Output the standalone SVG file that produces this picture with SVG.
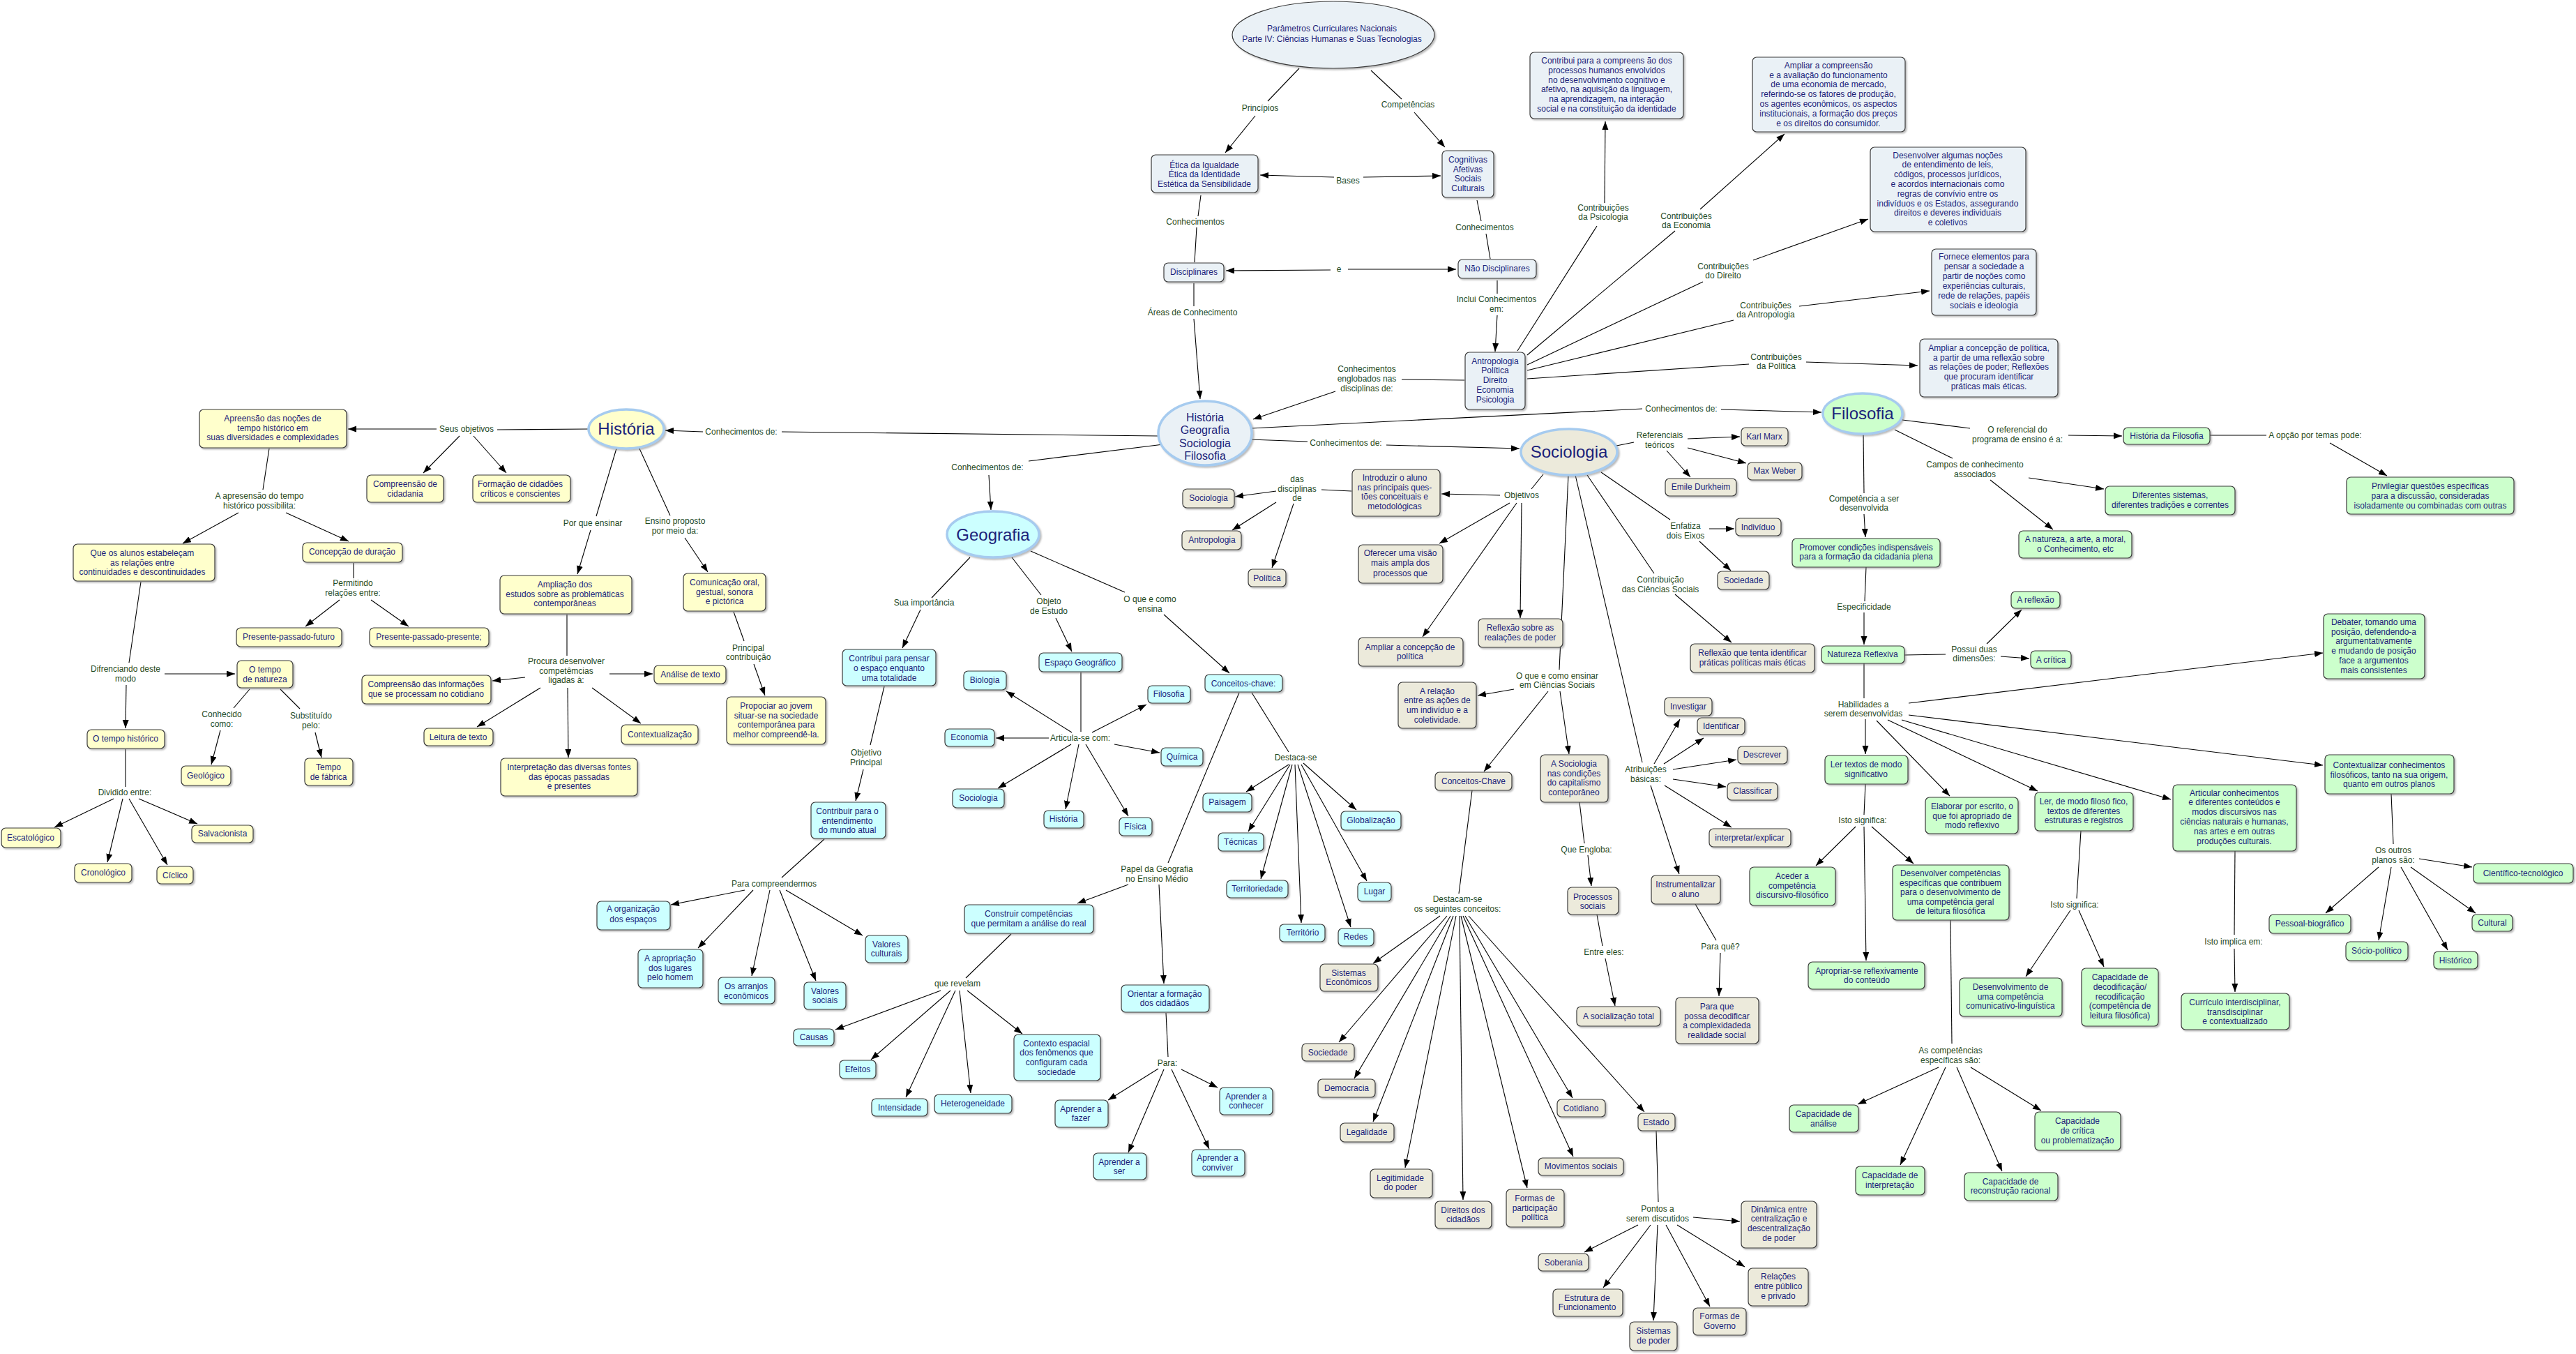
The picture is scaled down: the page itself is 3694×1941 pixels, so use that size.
<svg xmlns="http://www.w3.org/2000/svg" width="3694" height="1941" viewBox="0 0 3694 1941">
<defs>
<filter id="sh" x="-10%" y="-10%" width="130%" height="140%"><feDropShadow dx="2" dy="2" stdDeviation="1.2" flood-color="#777" flood-opacity="0.5"/></filter>
<marker id="ar" markerUnits="userSpaceOnUse" markerWidth="13" markerHeight="10" refX="12" refY="4.5" orient="auto"><path d="M0,0 L12,4.5 L0,9 z" fill="#000"/></marker>
</defs>
<style>
.n{stroke:#3a3a3a;stroke-width:1.2;filter:url(#sh)}
.s{fill:#EAF1F6}.y{fill:#FFFFCC}.c{fill:#CCFFFF}.b{fill:#ECEADB}.g{fill:#CCFFCC}
.e{stroke:#A6CBEF;stroke-width:3.5;filter:url(#sh)}
text{font-family:"Liberation Sans",Arial,sans-serif}
.t{font-size:12px;fill:#1B1F7A;text-anchor:middle}
.l{font-size:12px;fill:#1F4A1F;text-anchor:middle}
.big{font-size:24px;fill:#1B1F7A;text-anchor:middle}
.m{font-size:16px;fill:#1B1F7A;text-anchor:middle}
#conn path{fill:none;stroke:#000;stroke-width:1.1}
#conn path.a{marker-end:url(#ar)}
</style>
<rect width="3694" height="1941" fill="#fff"/>

<g id="conn">
<path d="M1863 98 L1818 145"/><path class="a" d="M1800 166 L1757 219"/>
<path d="M1966 101 L2010 142"/><path class="a" d="M2028 161 L2072 211"/>
<path class="a" d="M1913 254 L1807 251"/><path class="a" d="M1955 254 L2066 252"/>
<path d="M1722 280 L1718 310"/><path d="M1716 326 L1713 376"/>
<path class="a" d="M1908 387 L1758 388"/><path class="a" d="M1933 386 L2088 386"/>
<path d="M2118 287 L2124 317"/><path d="M2131 335 L2137 371"/>
<path d="M1712 406 L1712 439"/><path class="a" d="M1712 457 L1721 572"/>
<path d="M2147 402 L2147 421"/><path class="a" d="M2147 452 L2144 504"/>
<path d="M2100 545 L2010 544"/><path class="a" d="M1915 561 L1797 601"/>
<path d="M2176 503 L2290 324"/><path class="a" d="M2301 291 L2302 174"/>
<path d="M2190 509 L2402 331"/><path class="a" d="M2438 300 L2559 192"/>
<path d="M2190 523 L2442 404"/><path class="a" d="M2514 373 L2679 314"/>
<path d="M2190 531 L2486 459"/><path class="a" d="M2580 439 L2767 417"/>
<path d="M2190 543 L2508 522"/><path class="a" d="M2590 519 L2750 524"/>
<path d="M1661 625 L1121 619"/><path class="a" d="M1008 619 L954 617"/>
<path d="M1668 637 L1475 661"/><path class="a" d="M1418 681 L1421 731"/>
<path d="M1794 614 L2355 586"/><path class="a" d="M2468 587 L2612 591"/>
<path d="M1793 630 L1875 633"/><path class="a" d="M1988 638 L2179 643"/>
<path d="M844 615 L713 616"/><path class="a" d="M626 615 L499 615"/>
<path class="a" d="M659 625 L607 678"/><path class="a" d="M679 625 L726 678"/>
<path d="M386 643 L377 702"/>
<path class="a" d="M342 735 L262 779"/><path class="a" d="M410 735 L500 776"/>
<path d="M507 807 L507 829"/><path class="a" d="M487 860 L438 898"/><path class="a" d="M532 860 L586 898"/>
<path d="M202 834 L185 950"/><path class="a" d="M236 966 L337 966"/><path class="a" d="M181 982 L180 1044"/>
<path d="M358 988 L335 1015"/><path class="a" d="M316 1047 L303 1096"/>
<path d="M402 988 L430 1016"/><path class="a" d="M452 1050 L461 1086"/>
<path d="M180 1074 L180 1128"/><path class="a" d="M163 1145 L78 1186"/><path class="a" d="M176 1145 L154 1236"/><path class="a" d="M185 1145 L240 1240"/><path class="a" d="M199 1145 L283 1181"/>
<path d="M884 643 L855 740"/><path class="a" d="M847 760 L828 823"/>
<path d="M813 881 L813 940"/><path class="a" d="M753 971 L706 976"/><path class="a" d="M775 986 L684 1042"/><path class="a" d="M814 986 L815 1086"/><path class="a" d="M849 986 L919 1037"/><path class="a" d="M874 966 L936 966"/>
<path d="M916 641 L961 739"/><path class="a" d="M982 771 L1015 820"/>
<path d="M1052 877 L1067 919"/><path class="a" d="M1081 952 L1097 997"/>
<path d="M1391 799 L1336 857"/><path class="a" d="M1320 874 L1294 929"/>
<path d="M1268 984 L1248 1068"/><path class="a" d="M1238 1103 L1227 1148"/>
<path d="M1182 1203 L1121 1258"/><path class="a" d="M1068 1276 L962 1297"/><path class="a" d="M1080 1276 L1001 1359"/><path class="a" d="M1104 1276 L1078 1399"/><path class="a" d="M1118 1276 L1170 1406"/><path class="a" d="M1127 1276 L1237 1341"/>
<path d="M1451 799 L1493 853"/><path class="a" d="M1514 886 L1537 934"/>
<path d="M1550 964 L1550 1049"/><path class="a" d="M1537 1050 L1443 991"/><path class="a" d="M1504 1058 L1428 1058"/><path class="a" d="M1566 1050 L1644 1010"/><path class="a" d="M1598 1067 L1663 1079"/><path class="a" d="M1536 1067 L1431 1130"/><path class="a" d="M1547 1067 L1528 1160"/><path class="a" d="M1557 1067 L1618 1170"/>
<path d="M1478 790 L1613 849"/><path class="a" d="M1669 881 L1763 965"/>
<path d="M1795 993 L1848 1078"/>
<path class="a" d="M1848 1096 L1787 1135"/><path class="a" d="M1850 1096 L1790 1192"/><path class="a" d="M1853 1096 L1808 1260"/><path class="a" d="M1857 1096 L1866 1323"/><path class="a" d="M1861 1096 L1937 1329"/><path class="a" d="M1866 1096 L1960 1263"/><path class="a" d="M1869 1094 L1945 1161"/>
<path d="M1777 993 L1675 1237"/><path class="a" d="M1618 1268 L1545 1295"/><path class="a" d="M1662 1268 L1669 1410"/>
<path d="M1450 1339 L1385 1402"/><path class="a" d="M1349 1420 L1198 1476"/><path class="a" d="M1363 1420 L1249 1519"/><path class="a" d="M1370 1420 L1299 1573"/><path class="a" d="M1376 1420 L1392 1567"/><path class="a" d="M1387 1420 L1466 1482"/>
<path d="M1672 1452 L1675 1515"/><path class="a" d="M1661 1532 L1589 1577"/><path class="a" d="M1669 1533 L1618 1652"/><path class="a" d="M1680 1533 L1734 1647"/><path class="a" d="M1694 1533 L1746 1559"/>
<path d="M2213 680 L2196 701"/><path class="a" d="M2151 710 L2067 708"/><path class="a" d="M2165 721 L2064 779"/><path class="a" d="M2175 721 L2040 913"/><path class="a" d="M2182 721 L2180 886"/>
<path d="M1938 704 L1895 702"/><path class="a" d="M1830 704 L1771 712"/><path class="a" d="M1830 720 L1767 760"/><path class="a" d="M1855 722 L1824 814"/>
<path d="M2249 681 L2236 960"/><path class="a" d="M2171 988 L2119 997"/><path class="a" d="M2220 991 L2128 1106"/><path class="a" d="M2237 991 L2250 1081"/>
<path d="M2111 1133 L2092 1281"/>
<path class="a" d="M2065 1313 L1969 1381"/><path class="a" d="M2075 1313 L1920 1494"/><path class="a" d="M2080 1313 L1942 1546"/><path class="a" d="M2084 1313 L1969 1608"/><path class="a" d="M2088 1313 L2015 1674"/><path class="a" d="M2093 1313 L2098 1720"/><path class="a" d="M2095 1313 L2190 1703"/><path class="a" d="M2098 1313 L2256 1658"/><path class="a" d="M2101 1313 L2255 1574"/><path class="a" d="M2106 1313 L2358 1594"/>
<path d="M2265 1150 L2272 1209"/><path class="a" d="M2277 1226 L2282 1270"/>
<path d="M2290 1311 L2298 1356"/><path class="a" d="M2302 1374 L2316 1442"/>
<path d="M2318 639 L2343 634"/><path class="a" d="M2420 629 L2495 626"/><path class="a" d="M2390 646 L2424 684"/><path class="a" d="M2420 642 L2504 664"/>
<path d="M2296 677 L2395 745"/><path class="a" d="M2451 758 L2487 758"/><path class="a" d="M2437 776 L2482 818"/>
<path d="M2276 681 L2372 822"/><path class="a" d="M2402 852 L2483 921"/>
<path d="M2259 681 L2355 1093"/><path class="a" d="M2372 1095 L2409 1031"/><path class="a" d="M2386 1095 L2443 1058"/><path class="a" d="M2399 1103 L2490 1089"/><path class="a" d="M2399 1117 L2475 1128"/><path class="a" d="M2387 1126 L2483 1186"/><path class="a" d="M2367 1126 L2408 1253"/>
<path d="M2431 1296 L2461 1348"/><path class="a" d="M2467 1366 L2465 1428"/>
<path d="M2375 1621 L2378 1723"/><path class="a" d="M2428 1745 L2495 1751"/><path class="a" d="M2349 1756 L2272 1795"/><path class="a" d="M2367 1756 L2299 1846"/><path class="a" d="M2377 1756 L2371 1893"/><path class="a" d="M2389 1756 L2452 1873"/><path class="a" d="M2405 1756 L2502 1816"/>
<path d="M2728 602 L2825 614"/><path class="a" d="M2966 624 L3043 625"/>
<path d="M3169 624 L3250 624"/><path class="a" d="M3341 635 L3423 682"/>
<path d="M2717 616 L2800 657"/><path class="a" d="M2909 685 L3017 701"/><path class="a" d="M2854 688 L2944 759"/>
<path d="M2672 622 L2673 707"/><path class="a" d="M2673 737 L2675 770"/>
<path d="M2676 813 L2674 862"/><path class="a" d="M2673 878 L2673 924"/>
<path d="M2731 939 L2790 938"/><path class="a" d="M2849 923 L2899 874"/><path class="a" d="M2869 941 L2910 944"/>
<path d="M2673 951 L2673 1001"/><path class="a" d="M2675 1031 L2675 1081"/><path class="a" d="M2691 1033 L2796 1141"/><path class="a" d="M2707 1032 L2922 1134"/><path class="a" d="M2727 1032 L3113 1146"/><path class="a" d="M2737 1025 L3331 1097"/><path class="a" d="M2737 1008 L3331 936"/>
<path d="M2675 1124 L2673 1168"/><path class="a" d="M2661 1185 L2604 1241"/><path class="a" d="M2684 1185 L2744 1238"/><path class="a" d="M2673 1185 L2676 1377"/>
<path d="M2797 1319 L2799 1496"/><path class="a" d="M2780 1530 L2664 1583"/><path class="a" d="M2790 1530 L2725 1670"/><path class="a" d="M2806 1530 L2871 1679"/><path class="a" d="M2826 1530 L2927 1592"/>
<path d="M2984 1191 L2978 1288"/><path class="a" d="M2969 1305 L2905 1400"/><path class="a" d="M2981 1305 L3017 1386"/>
<path d="M3205 1220 L3204 1340"/><path class="a" d="M3204 1360 L3205 1422"/>
<path d="M3429 1138 L3432 1210"/><path class="a" d="M3469 1231 L3545 1243"/><path class="a" d="M3411 1243 L3335 1309"/><path class="a" d="M3429 1243 L3411 1348"/><path class="a" d="M3443 1243 L3510 1362"/><path class="a" d="M3457 1243 L3550 1309"/>
</g>

<g id="labels">
<text class="l" x="1807" y="159">Princípios</text>
<text class="l" x="2019" y="154">Competências</text>
<text class="l" x="1933" y="263">Bases</text>
<text class="l" x="1714" y="322">Conhecimentos</text>
<text class="l" x="2129" y="330">Conhecimentos</text>
<text class="l" x="1920" y="390">e</text>
<text class="l" x="1710" y="452">Áreas de Conhecimento</text>
<text class="l"><tspan x="2146" y="433">Inclui Conhecimentos</tspan><tspan x="2146" y="447">em:</tspan></text>
<text class="l"><tspan x="1960" y="533">Conhecimentos</tspan><tspan x="1960" y="547">englobados nas</tspan><tspan x="1960" y="561">disciplinas de:</tspan></text>
<text class="l"><tspan x="2299" y="302">Contribuições</tspan><tspan x="2299" y="315">da Psicologia</tspan></text>
<text class="l"><tspan x="2418" y="314">Contribuições</tspan><tspan x="2418" y="327">da Economia</tspan></text>
<text class="l"><tspan x="2471" y="386">Contribuições</tspan><tspan x="2471" y="399">do Direito</tspan></text>
<text class="l"><tspan x="2532" y="442">Contribuições</tspan><tspan x="2532" y="455">da Antropologia</tspan></text>
<text class="l"><tspan x="2547" y="516">Contribuições</tspan><tspan x="2547" y="529">da Política</tspan></text>
<text class="l" x="1063" y="623">Conhecimentos de:</text>
<text class="l" x="1416" y="674">Conhecimentos de:</text>
<text class="l" x="2411" y="590">Conhecimentos de:</text>
<text class="l" x="1930" y="639">Conhecimentos de:</text>
<text class="l" x="669" y="619">Seus objetivos</text>
<text class="l"><tspan x="372" y="715">A apresensão do tempo</tspan><tspan x="372" y="729">histórico possibilita:</tspan></text>
<text class="l"><tspan x="506" y="840">Permitindo</tspan><tspan x="506" y="854">relações entre:</tspan></text>
<text class="l"><tspan x="180" y="963">Difrenciando deste</tspan><tspan x="180" y="977">modo</tspan></text>
<text class="l"><tspan x="318" y="1028">Conhecido</tspan><tspan x="318" y="1042">como:</tspan></text>
<text class="l"><tspan x="446" y="1030">Substituído</tspan><tspan x="446" y="1044">pelo:</tspan></text>
<text class="l" x="179" y="1140">Dividido entre:</text>
<text class="l" x="850" y="754">Por que ensinar</text>
<text class="l"><tspan x="812" y="952">Procura desenvolver</tspan><tspan x="812" y="966">competêmcias</tspan><tspan x="812" y="979">ligadas à:</tspan></text>
<text class="l"><tspan x="968" y="751">Ensino proposto</tspan><tspan x="968" y="765">por meio da:</tspan></text>
<text class="l"><tspan x="1073" y="933">Principal</tspan><tspan x="1073" y="946">contribuição</tspan></text>
<text class="l" x="1325" y="868">Sua importância</text>
<text class="l"><tspan x="1242" y="1083">Objetivo</tspan><tspan x="1242" y="1097">Principal</tspan></text>
<text class="l" x="1110" y="1271">Para compreendermos</text>
<text class="l"><tspan x="1504" y="866">Objeto</tspan><tspan x="1504" y="880">de Estudo</tspan></text>
<text class="l"><tspan x="1649" y="863">O que e como</tspan><tspan x="1649" y="877">ensina</tspan></text>
<text class="l" x="1549" y="1062">Articula-se com:</text>
<text class="l" x="1858" y="1090">Destaca-se</text>
<text class="l"><tspan x="1659" y="1250">Papel da Geografia</tspan><tspan x="1659" y="1264">no Ensino Médio</tspan></text>
<text class="l" x="1373" y="1414">que revelam</text>
<text class="l" x="1674" y="1528">Para:</text>
<text class="l"><tspan x="1860" y="691">das</tspan><tspan x="1860" y="705">disciplinas</tspan><tspan x="1860" y="718">de</tspan></text>
<text class="l" x="2182" y="714">Objetivos</text>
<text class="l"><tspan x="2233" y="973">O que e como ensinar</tspan><tspan x="2233" y="986">em Ciências Sociais</tspan></text>
<text class="l" x="2275" y="1222">Que Engloba:</text>
<text class="l" x="2300" y="1369">Entre eles:</text>
<text class="l"><tspan x="2090" y="1293">Destacam-se</tspan><tspan x="2090" y="1307">os seguintes conceitos:</tspan></text>
<text class="l"><tspan x="2377" y="1737">Pontos a</tspan><tspan x="2377" y="1751">serem discutidos</tspan></text>
<text class="l"><tspan x="2380" y="628">Referenciais</tspan><tspan x="2380" y="642">teóricos</tspan></text>
<text class="l"><tspan x="2417" y="758">Enfatiza</tspan><tspan x="2417" y="772">dois Eixos</tspan></text>
<text class="l"><tspan x="2381" y="835">Contribuição</tspan><tspan x="2381" y="849">das Ciências Sociais</tspan></text>
<text class="l"><tspan x="2360" y="1107">Atribuições</tspan><tspan x="2360" y="1121">básicas:</tspan></text>
<text class="l" x="2467" y="1361">Para quê?</text>
<text class="l"><tspan x="2893" y="620">O referencial do</tspan><tspan x="2893" y="634">programa de ensino é a:</tspan></text>
<text class="l" x="3320" y="628">A opção por temas pode:</text>
<text class="l"><tspan x="2832" y="670">Campos de conhecimento</tspan><tspan x="2832" y="684">associados</tspan></text>
<text class="l"><tspan x="2673" y="719">Competência a ser</tspan><tspan x="2673" y="732">desenvolvida</tspan></text>
<text class="l" x="2673" y="874">Especificidade</text>
<text class="l"><tspan x="2831" y="935">Possui duas</tspan><tspan x="2831" y="948">dimensões:</tspan></text>
<text class="l"><tspan x="2672" y="1014">Habilidades a</tspan><tspan x="2672" y="1027">serem desenvolvidas</tspan></text>
<text class="l" x="2671" y="1180">Isto significa:</text>
<text class="l"><tspan x="2797" y="1510">As competências</tspan><tspan x="2797" y="1524">específicas são:</tspan></text>
<text class="l" x="2975" y="1301">Isto significa:</text>
<text class="l" x="3203" y="1354">Isto implica em:</text>
<text class="l"><tspan x="3432" y="1223">Os outros</tspan><tspan x="3432" y="1237">planos são:</tspan></text>
</g>

<!-- top -->
<g id="pcn"><ellipse class="n s" cx="1912" cy="50" rx="145" ry="48"/><text class="t"><tspan x="1910" y="45">Parâmetros Curriculares Nacionais</tspan><tspan x="1910" y="60">Parte IV: Ciências Humanas e Suas Tecnologias</tspan></text></g>
<g id="etica"><rect class="n s" x="1651" y="222" width="153" height="54" rx="6"/><text class="t"><tspan x="1727" y="241">Ética da Igualdade</tspan><tspan x="1727" y="254">Ética da Identidade</tspan><tspan x="1727" y="268">Estética da Sensibilidade</tspan></text></g>
<g id="cognitivas"><rect class="n s" x="2068" y="216" width="74" height="67" rx="6"/><text class="t"><tspan x="2105" y="233">Cognitivas</tspan><tspan x="2105" y="247">Afetivas</tspan><tspan x="2105" y="260">Sociais</tspan><tspan x="2105" y="274">Culturais</tspan></text></g>
<g id="disciplinares"><rect class="n s" x="1669" y="377" width="86" height="27" rx="6"/><text class="t" x="1712" y="394">Disciplinares</text></g>
<g id="naodisciplinares"><rect class="n s" x="2091" y="372" width="112" height="27" rx="6"/><text class="t" x="2147" y="389">Não Disciplinares</text></g>
<g id="areas"><rect class="n s" x="2101" y="505" width="86" height="82" rx="6"/><text class="t"><tspan x="2144" y="522">Antropologia</tspan><tspan x="2144" y="535">Política</tspan><tspan x="2144" y="549">Direito</tspan><tspan x="2144" y="563">Economia</tspan><tspan x="2144" y="577">Psicologia</tspan></text></g>
<g id="psicologia"><rect class="n s" x="2194" y="75" width="220" height="95" rx="6"/><text class="t"><tspan x="2304" y="91">Contribui para a compreens ão dos</tspan><tspan x="2304" y="105">processos humanos envolvidos</tspan><tspan x="2304" y="119">no desenvolvimento cognitivo e</tspan><tspan x="2304" y="132">afetivo, na aquisição da linguagem,</tspan><tspan x="2304" y="146">na aprendizagem, na interação</tspan><tspan x="2304" y="160">social e na constituição da identidade</tspan></text></g>
<g id="economia"><rect class="n s" x="2513" y="82" width="219" height="107" rx="6"/><text class="t"><tspan x="2622" y="98">Ampliar a compreensão</tspan><tspan x="2622" y="112">e a avaliação do funcionamento</tspan><tspan x="2622" y="125">de uma economia de mercado,</tspan><tspan x="2622" y="139">referindo-se os fatores de produção,</tspan><tspan x="2622" y="153">os agentes econômicos, os aspectos</tspan><tspan x="2622" y="167">institucionais, a formação dos preços</tspan><tspan x="2622" y="181">e os direitos do consumidor.</tspan></text></g>
<g id="direito"><rect class="n s" x="2682" y="211" width="223" height="121" rx="6"/><text class="t"><tspan x="2793" y="227">Desenvolver algumas noções</tspan><tspan x="2793" y="240">de entendimento de leis,</tspan><tspan x="2793" y="254">códigos, processos jurídicos,</tspan><tspan x="2793" y="268">e acordos internacionais como</tspan><tspan x="2793" y="282">regras de convívio entre os</tspan><tspan x="2793" y="296">indivíduos e os Estados, assegurando</tspan><tspan x="2793" y="309">direitos e deveres individuais</tspan><tspan x="2793" y="323">e coletivos</tspan></text></g>
<g id="antropologia"><rect class="n s" x="2770" y="357" width="150" height="95" rx="6"/><text class="t"><tspan x="2845" y="372">Fornece elementos para</tspan><tspan x="2845" y="386">pensar a sociedade a</tspan><tspan x="2845" y="400">partir de noções como</tspan><tspan x="2845" y="414">experiências culturais,</tspan><tspan x="2845" y="428">rede de relações, papéis</tspan><tspan x="2845" y="442">sociais e ideologia</tspan></text></g>
<g id="politica"><rect class="n s" x="2753" y="486" width="198" height="83" rx="6"/><text class="t"><tspan x="2852" y="503">Ampliar a concepção de política,</tspan><tspan x="2852" y="517">a partir de uma reflexão sobre</tspan><tspan x="2852" y="530">as  relações de poder; Reflexões</tspan><tspan x="2852" y="544">que procuram identificar</tspan><tspan x="2852" y="558">práticas mais éticas.</tspan></text></g>
<g id="hgsf"><ellipse class="e s" cx="1728" cy="621" rx="67" ry="46"/><text class="m"><tspan x="1728" y="604">História</tspan><tspan x="1728" y="622">Geografia</tspan><tspan x="1728" y="641">Sociologia</tspan><tspan x="1728" y="659">Filosofia</tspan></text></g>

<!-- História -->
<g id="historia"><ellipse class="e y" cx="898" cy="615" rx="54" ry="28"/><text class="big" x="898" y="623">História</text></g>
<g id="apreensao"><rect class="n y" x="286" y="587" width="211" height="55" rx="6"/><text class="t"><tspan x="391" y="604">Apreensão das noções de</tspan><tspan x="391" y="618">tempo histórico em</tspan><tspan x="391" y="631">suas diversidades e complexidades</tspan></text></g>
<g id="cidadania"><rect class="n y" x="526" y="681" width="110" height="39" rx="6"/><text class="t"><tspan x="581" y="698">Compreensão de</tspan><tspan x="581" y="712">cidadania</tspan></text></g>
<g id="cidadoes"><rect class="n y" x="678" y="681" width="140" height="39" rx="6"/><text class="t"><tspan x="746" y="698">Formação de cidadões</tspan><tspan x="746" y="712">críticos e conscientes</tspan></text></g>
<g id="queos"><rect class="n y" x="105" y="780" width="203" height="53" rx="6"/><text class="t"><tspan x="204" y="797">Que os alunos estabeleçam</tspan><tspan x="204" y="811">as relações entre</tspan><tspan x="204" y="824">continuidades e descontinuidades</tspan></text></g>
<g id="concepcao"><rect class="n y" x="434" y="778" width="143" height="28" rx="6"/><text class="t" x="505" y="795">Concepção de duração</text></g>
<g id="ppf"><rect class="n y" x="339" y="900" width="151" height="27" rx="6"/><text class="t" x="414" y="917">Presente-passado-futuro</text></g>
<g id="ppp"><rect class="n y" x="530" y="900" width="171" height="27" rx="6"/><text class="t" x="615" y="917">Presente-passado-presente;</text></g>
<g id="natureza"><rect class="n y" x="340" y="947" width="80" height="39" rx="6"/><text class="t"><tspan x="380" y="964">O tempo</tspan><tspan x="380" y="978">de natureza</tspan></text></g>
<g id="geologico"><rect class="n y" x="260" y="1098" width="71" height="28" rx="6"/><text class="t" x="295" y="1116">Geológico</text></g>
<g id="fabrica"><rect class="n y" x="437" y="1087" width="69" height="39" rx="6"/><text class="t"><tspan x="471" y="1104">Tempo</tspan><tspan x="471" y="1118">de fábrica</tspan></text></g>
<g id="tempohist"><rect class="n y" x="125" y="1046" width="111" height="27" rx="6"/><text class="t" x="180" y="1063">O tempo histórico</text></g>
<g id="escatologico"><rect class="n y" x="2" y="1187" width="85" height="28" rx="6"/><text class="t" x="44" y="1205">Escatológico</text></g>
<g id="cronologico"><rect class="n y" x="107" y="1238" width="82" height="27" rx="6"/><text class="t" x="148" y="1255">Cronológico</text></g>
<g id="ciclico"><rect class="n y" x="225" y="1242" width="52" height="25" rx="6"/><text class="t" x="251" y="1259">Cíclico</text></g>
<g id="salvacionista"><rect class="n y" x="275" y="1183" width="88" height="25" rx="6"/><text class="t" x="319" y="1199">Salvacionista</text></g>
<g id="ampliacao"><rect class="n y" x="717" y="825" width="189" height="55" rx="6"/><text class="t"><tspan x="810" y="842">Ampliação dos</tspan><tspan x="810" y="856">estudos sobre as problemáticas</tspan><tspan x="810" y="869">contemporâneas</tspan></text></g>
<g id="compinfo"><rect class="n y" x="519" y="968" width="185" height="41" rx="6"/><text class="t"><tspan x="611" y="985">Compreensão das informações</tspan><tspan x="611" y="999">que se processam no cotidiano</tspan></text></g>
<g id="leitura"><rect class="n y" x="608" y="1044" width="99" height="25" rx="6"/><text class="t" x="657" y="1061">Leitura de texto</text></g>
<g id="interpretacao"><rect class="n y" x="718" y="1087" width="196" height="54" rx="6"/><text class="t"><tspan x="816" y="1104">Interpretação das diversas fontes</tspan><tspan x="816" y="1118">das épocas passadas</tspan><tspan x="816" y="1131">e presentes</tspan></text></g>
<g id="contextualizacao"><rect class="n y" x="891" y="1039" width="110" height="28" rx="6"/><text class="t" x="946" y="1057">Contextualização</text></g>
<g id="analise"><rect class="n y" x="938" y="954" width="103" height="26" rx="6"/><text class="t" x="990" y="971">Análise de texto</text></g>
<g id="comunicacao"><rect class="n y" x="980" y="822" width="118" height="54" rx="6"/><text class="t"><tspan x="1039" y="839">Comunicação oral,</tspan><tspan x="1039" y="853">gestual, sonora</tspan><tspan x="1039" y="866">e pictórica</tspan></text></g>
<g id="propociar"><rect class="n y" x="1042" y="999" width="142" height="68" rx="6"/><text class="t"><tspan x="1113" y="1016">Propociar ao jovem</tspan><tspan x="1113" y="1030">situar-se na sociedade</tspan><tspan x="1113" y="1043">contemporânea para</tspan><tspan x="1113" y="1057">melhor compreendê-la.</tspan></text></g>

<!-- Geografia -->
<g id="geografia"><ellipse class="e c" cx="1424" cy="766" rx="66" ry="33"/><text class="big" x="1424" y="775">Geografia</text></g>
<g id="contribui"><rect class="n c" x="1208" y="931" width="134" height="52" rx="6"/><text class="t"><tspan x="1275" y="948">Contribui para pensar</tspan><tspan x="1275" y="962">o espaço enquanto</tspan><tspan x="1275" y="976">uma totalidade</tspan></text></g>
<g id="contribuir"><rect class="n c" x="1163" y="1150" width="107" height="52" rx="6"/><text class="t"><tspan x="1215" y="1167">Contribuir para o</tspan><tspan x="1215" y="1181">entendimento</tspan><tspan x="1215" y="1194">do mundo atual</tspan></text></g>
<g id="espaco"><rect class="n c" x="1490" y="936" width="119" height="27" rx="6"/><text class="t" x="1549" y="954">Espaço Geográfico</text></g>
<g id="conceitoschave"><rect class="n c" x="1728" y="967" width="111" height="25" rx="6"/><text class="t" x="1783" y="984">Conceitos-chave:</text></g>
<g id="biologia"><rect class="n c" x="1382" y="962" width="61" height="27" rx="6"/><text class="t" x="1412" y="979">Biologia</text></g>
<g id="filosofiag"><rect class="n c" x="1646" y="983" width="61" height="25" rx="6"/><text class="t" x="1676" y="999">Filosofia</text></g>
<g id="economiag"><rect class="n c" x="1355" y="1045" width="71" height="25" rx="6"/><text class="t" x="1390" y="1061">Economia</text></g>
<g id="quimica"><rect class="n c" x="1665" y="1072" width="60" height="26" rx="6"/><text class="t" x="1695" y="1089">Química</text></g>
<g id="sociologiag"><rect class="n c" x="1366" y="1131" width="74" height="27" rx="6"/><text class="t" x="1403" y="1148">Sociologia</text></g>
<g id="historiag"><rect class="n c" x="1497" y="1162" width="57" height="25" rx="6"/><text class="t" x="1525" y="1178">História</text></g>
<g id="fisica"><rect class="n c" x="1605" y="1172" width="47" height="26" rx="6"/><text class="t" x="1628" y="1189">Física</text></g>
<g id="paisagem"><rect class="n c" x="1725" y="1137" width="70" height="27" rx="6"/><text class="t" x="1760" y="1154">Paisagem</text></g>
<g id="tecnicas"><rect class="n c" x="1747" y="1194" width="65" height="26" rx="6"/><text class="t" x="1779" y="1211">Técnicas</text></g>
<g id="territoriedade"><rect class="n c" x="1759" y="1262" width="88" height="25" rx="6"/><text class="t" x="1803" y="1278">Territoriedade</text></g>
<g id="globalizacao"><rect class="n c" x="1923" y="1163" width="86" height="27" rx="6"/><text class="t" x="1966" y="1180">Globalização</text></g>
<g id="lugar"><rect class="n c" x="1947" y="1265" width="48" height="27" rx="6"/><text class="t" x="1971" y="1282">Lugar</text></g>
<g id="territorio"><rect class="n c" x="1835" y="1325" width="65" height="25" rx="6"/><text class="t" x="1868" y="1341">Território</text></g>
<g id="redes"><rect class="n c" x="1919" y="1331" width="51" height="25" rx="6"/><text class="t" x="1944" y="1347">Redes</text></g>
<g id="organizacao"><rect class="n c" x="856" y="1292" width="105" height="41" rx="6"/><text class="t"><tspan x="908" y="1307">A organização</tspan><tspan x="908" y="1322">dos espaços</tspan></text></g>
<g id="apropriacao"><rect class="n c" x="915" y="1361" width="93" height="55" rx="6"/><text class="t"><tspan x="961" y="1378">A apropriação</tspan><tspan x="961" y="1392">dos lugares</tspan><tspan x="961" y="1405">pelo homem</tspan></text></g>
<g id="arranjos"><rect class="n c" x="1030" y="1401" width="81" height="38" rx="6"/><text class="t"><tspan x="1070" y="1418">Os arranjos</tspan><tspan x="1070" y="1432">econômicos</tspan></text></g>
<g id="valoressociais"><rect class="n c" x="1153" y="1408" width="60" height="39" rx="6"/><text class="t"><tspan x="1183" y="1425">Valores</tspan><tspan x="1183" y="1438">sociais</tspan></text></g>
<g id="valoresculturais"><rect class="n c" x="1241" y="1341" width="61" height="39" rx="6"/><text class="t"><tspan x="1271" y="1358">Valores</tspan><tspan x="1271" y="1371">culturais</tspan></text></g>
<g id="construir"><rect class="n c" x="1383" y="1297" width="185" height="41" rx="6"/><text class="t"><tspan x="1475" y="1314">Construir competências</tspan><tspan x="1475" y="1328">que permitam a análise do real</tspan></text></g>
<g id="causas"><rect class="n c" x="1138" y="1475" width="58" height="24" rx="6"/><text class="t" x="1167" y="1491">Causas</text></g>
<g id="efeitos"><rect class="n c" x="1204" y="1520" width="52" height="26" rx="6"/><text class="t" x="1230" y="1537">Efeitos</text></g>
<g id="intensidade"><rect class="n c" x="1250" y="1575" width="80" height="25" rx="6"/><text class="t" x="1290" y="1592">Intensidade</text></g>
<g id="heterogeneidade"><rect class="n c" x="1340" y="1569" width="111" height="27" rx="6"/><text class="t" x="1395" y="1586">Heterogeneidade</text></g>
<g id="contexto"><rect class="n c" x="1454" y="1483" width="124" height="66" rx="6"/><text class="t"><tspan x="1515" y="1500">Contexto espacial</tspan><tspan x="1515" y="1513">dos fenômenos que</tspan><tspan x="1515" y="1527">configuram cada</tspan><tspan x="1515" y="1541">sociedade</tspan></text></g>
<g id="orientar"><rect class="n c" x="1608" y="1412" width="126" height="39" rx="6"/><text class="t"><tspan x="1670" y="1429">Orientar a formação</tspan><tspan x="1670" y="1442">dos cidadãos</tspan></text></g>
<g id="fazer"><rect class="n c" x="1513" y="1577" width="76" height="39" rx="6"/><text class="t"><tspan x="1550" y="1594">Aprender a</tspan><tspan x="1550" y="1607">fazer</tspan></text></g>
<g id="ser"><rect class="n c" x="1568" y="1653" width="76" height="38" rx="6"/><text class="t"><tspan x="1605" y="1670">Aprender a</tspan><tspan x="1605" y="1683">ser</tspan></text></g>
<g id="conviver"><rect class="n c" x="1709" y="1648" width="76" height="38" rx="6"/><text class="t"><tspan x="1746" y="1664">Aprender a</tspan><tspan x="1746" y="1678">conviver</tspan></text></g>
<g id="conhecer"><rect class="n c" x="1749" y="1559" width="76" height="39" rx="6"/><text class="t"><tspan x="1787" y="1576">Aprender a</tspan><tspan x="1787" y="1589">conhecer</tspan></text></g>

<!-- Sociologia -->
<g id="sociologia"><ellipse class="e b" cx="2250" cy="648" rx="69" ry="33"/><text class="big" x="2250" y="656">Sociologia</text></g>
<g id="sociologias"><rect class="n b" x="1696" y="701" width="74" height="27" rx="6"/><text class="t" x="1733" y="718">Sociologia</text></g>
<g id="antropologias"><rect class="n b" x="1695" y="761" width="85" height="27" rx="6"/><text class="t" x="1738" y="778">Antropologia</text></g>
<g id="politicas"><rect class="n b" x="1790" y="816" width="54" height="25" rx="6"/><text class="t" x="1817" y="833">Política</text></g>
<g id="introduzir"><rect class="n b" x="1939" y="673" width="126" height="67" rx="6"/><text class="t"><tspan x="2000" y="689">Introduzir o aluno</tspan><tspan x="2000" y="703">nas principais ques-</tspan><tspan x="2000" y="716">tões conceituais e</tspan><tspan x="2000" y="730">metodológicas</tspan></text></g>
<g id="oferecer"><rect class="n b" x="1948" y="781" width="121" height="55" rx="6"/><text class="t"><tspan x="2008" y="797">Oferecer uma visão</tspan><tspan x="2008" y="811">mais ampla dos</tspan><tspan x="2008" y="826">processos que</tspan></text></g>
<g id="ampliarconcepcao"><rect class="n b" x="1948" y="914" width="150" height="41" rx="6"/><text class="t"><tspan x="2022" y="932">Ampliar a concepção de</tspan><tspan x="2022" y="945">política</tspan></text></g>
<g id="reflexaosobre"><rect class="n b" x="2120" y="887" width="121" height="41" rx="6"/><text class="t"><tspan x="2180" y="904">Reflexão sobre as</tspan><tspan x="2180" y="918">realações de poder</tspan></text></g>
<g id="arelacao"><rect class="n b" x="2005" y="978" width="112" height="66" rx="6"/><text class="t"><tspan x="2061" y="995">A relação</tspan><tspan x="2061" y="1008">entre as ações de</tspan><tspan x="2061" y="1022">um indivíduo e a</tspan><tspan x="2061" y="1036">coletividade.</tspan></text></g>
<g id="conceitoschaves"><rect class="n b" x="2058" y="1107" width="110" height="26" rx="6"/><text class="t" x="2113" y="1124">Conceitos-Chave</text></g>
<g id="asociologia"><rect class="n b" x="2209" y="1082" width="97" height="68" rx="6"/><text class="t"><tspan x="2257" y="1099">A Sociologia</tspan><tspan x="2257" y="1113">nas condições</tspan><tspan x="2257" y="1126">do capitalismo</tspan><tspan x="2257" y="1140">conteporâneo</tspan></text></g>
<g id="processos"><rect class="n b" x="2248" y="1272" width="73" height="39" rx="6"/><text class="t"><tspan x="2284" y="1290">Processos</tspan><tspan x="2284" y="1303">sociais</tspan></text></g>
<g id="socializacao"><rect class="n b" x="2261" y="1443" width="120" height="28" rx="6"/><text class="t" x="2321" y="1461">A socialização total</text></g>
<g id="karlmarx"><rect class="n b" x="2497" y="613" width="67" height="26" rx="6"/><text class="t" x="2530" y="630">Karl Marx</text></g>
<g id="durkheim"><rect class="n b" x="2388" y="686" width="102" height="25" rx="6"/><text class="t" x="2439" y="702">Emile Durkheim</text></g>
<g id="weber"><rect class="n b" x="2506" y="663" width="78" height="25" rx="6"/><text class="t" x="2545" y="679">Max Weber</text></g>
<g id="individuo"><rect class="n b" x="2489" y="743" width="65" height="25" rx="6"/><text class="t" x="2521" y="760">Indivíduo</text></g>
<g id="sociedades"><rect class="n b" x="2463" y="819" width="74" height="26" rx="6"/><text class="t" x="2500" y="836">Sociedade</text></g>
<g id="reflexaoque"><rect class="n b" x="2424" y="923" width="178" height="41" rx="6"/><text class="t"><tspan x="2513" y="940">Reflexão que tenta identificar</tspan><tspan x="2513" y="954">práticas políticas mais éticas</tspan></text></g>
<g id="investigar"><rect class="n b" x="2387" y="1000" width="68" height="26" rx="6"/><text class="t" x="2421" y="1017">Investigar</text></g>
<g id="identificar"><rect class="n b" x="2434" y="1029" width="68" height="24" rx="6"/><text class="t" x="2468" y="1045">Identificar</text></g>
<g id="descrever"><rect class="n b" x="2492" y="1070" width="71" height="25" rx="6"/><text class="t" x="2527" y="1086">Descrever</text></g>
<g id="classificar"><rect class="n b" x="2477" y="1122" width="72" height="25" rx="6"/><text class="t" x="2513" y="1138">Classificar</text></g>
<g id="interpretar"><rect class="n b" x="2451" y="1188" width="117" height="26" rx="6"/><text class="t" x="2509" y="1205">interpretar/explicar</text></g>
<g id="instrumentalizar"><rect class="n b" x="2368" y="1255" width="99" height="41" rx="6"/><text class="t"><tspan x="2417" y="1272">Instrumentalizar</tspan><tspan x="2417" y="1286">o aluno</tspan></text></g>
<g id="paraque"><rect class="n b" x="2403" y="1430" width="119" height="66" rx="6"/><text class="t"><tspan x="2462" y="1447">Para que</tspan><tspan x="2462" y="1461">possa decodificar</tspan><tspan x="2462" y="1474">a complexidadeda</tspan><tspan x="2462" y="1488">realidade social</tspan></text></g>
<g id="sistemaseco"><rect class="n b" x="1893" y="1382" width="83" height="39" rx="6"/><text class="t"><tspan x="1934" y="1399">Sistemas</tspan><tspan x="1934" y="1412">Econômicos</tspan></text></g>
<g id="sociedade2"><rect class="n b" x="1867" y="1496" width="75" height="25" rx="6"/><text class="t" x="1904" y="1513">Sociedade</text></g>
<g id="democracia"><rect class="n b" x="1890" y="1547" width="82" height="26" rx="6"/><text class="t" x="1931" y="1564">Democracia</text></g>
<g id="legalidade"><rect class="n b" x="1922" y="1610" width="77" height="27" rx="6"/><text class="t" x="1960" y="1627">Legalidade</text></g>
<g id="legitimidade"><rect class="n b" x="1965" y="1676" width="89" height="41" rx="6"/><text class="t"><tspan x="2008" y="1693">Legitimidade</tspan><tspan x="2008" y="1706">do poder</tspan></text></g>
<g id="direitos"><rect class="n b" x="2058" y="1722" width="81" height="39" rx="6"/><text class="t"><tspan x="2098" y="1739">Direitos dos</tspan><tspan x="2098" y="1752">cidadãos</tspan></text></g>
<g id="formaspart"><rect class="n b" x="2160" y="1705" width="83" height="54" rx="6"/><text class="t"><tspan x="2201" y="1722">Formas de</tspan><tspan x="2201" y="1736">participação</tspan><tspan x="2201" y="1749">política</tspan></text></g>
<g id="movimentos"><rect class="n b" x="2206" y="1660" width="122" height="25" rx="6"/><text class="t" x="2267" y="1676">Movimentos sociais</text></g>
<g id="cotidiano"><rect class="n b" x="2233" y="1576" width="69" height="25" rx="6"/><text class="t" x="2267" y="1593">Cotidiano</text></g>
<g id="estado"><rect class="n b" x="2349" y="1596" width="53" height="25" rx="6"/><text class="t" x="2375" y="1613">Estado</text></g>
<g id="dinamica"><rect class="n b" x="2497" y="1722" width="108" height="67" rx="6"/><text class="t"><tspan x="2551" y="1738">Dinâmica entre</tspan><tspan x="2551" y="1751">centralização e</tspan><tspan x="2551" y="1765">descentralização</tspan><tspan x="2551" y="1779">de poder</tspan></text></g>
<g id="soberania"><rect class="n b" x="2206" y="1797" width="72" height="25" rx="6"/><text class="t" x="2242" y="1814">Soberania</text></g>
<g id="estrutura"><rect class="n b" x="2227" y="1848" width="100" height="39" rx="6"/><text class="t"><tspan x="2276" y="1865">Estrutura de</tspan><tspan x="2276" y="1878">Funcionamento</tspan></text></g>
<g id="sistemaspoder"><rect class="n b" x="2337" y="1895" width="68" height="41" rx="6"/><text class="t"><tspan x="2371" y="1912">Sistemas</tspan><tspan x="2371" y="1926">de poder</tspan></text></g>
<g id="formasgov"><rect class="n b" x="2428" y="1875" width="76" height="39" rx="6"/><text class="t"><tspan x="2466" y="1891">Formas de</tspan><tspan x="2466" y="1905">Governo</tspan></text></g>
<g id="relacoes"><rect class="n b" x="2507" y="1818" width="86" height="54" rx="6"/><text class="t"><tspan x="2550" y="1834">Relações</tspan><tspan x="2550" y="1848">entre público</tspan><tspan x="2550" y="1862">e privado</tspan></text></g>

<!-- Filosofia -->
<g id="filosofia"><ellipse class="e g" cx="2671" cy="593" rx="57" ry="29"/><text class="big" x="2671" y="601">Filosofia</text></g>
<g id="historiafilo"><rect class="n g" x="3045" y="613" width="124" height="24" rx="6"/><text class="t" x="3107" y="629">História da Filosofia</text></g>
<g id="privilegiar"><rect class="n g" x="3365" y="684" width="240" height="53" rx="6"/><text class="t"><tspan x="3485" y="701">Privilegiar questões específicas</tspan><tspan x="3485" y="715">para a discussão, consideradas</tspan><tspan x="3485" y="729">isoladamente ou combinadas com outras</tspan></text></g>
<g id="diferentes"><rect class="n g" x="3019" y="697" width="186" height="41" rx="6"/><text class="t"><tspan x="3112" y="714">Diferentes sistemas,</tspan><tspan x="3112" y="728">diferentes tradições e correntes</tspan></text></g>
<g id="anatureza"><rect class="n g" x="2895" y="761" width="162" height="39" rx="6"/><text class="t"><tspan x="2976" y="777">A natureza, a arte, a moral,</tspan><tspan x="2976" y="791">o Conhecimento, etc</tspan></text></g>
<g id="promover"><rect class="n g" x="2570" y="772" width="212" height="41" rx="6"/><text class="t"><tspan x="2676" y="789">Promover condições  indispensáveis</tspan><tspan x="2676" y="802">para a formação da cidadania plena</tspan></text></g>
<g id="naturezareflexiva"><rect class="n g" x="2612" y="926" width="119" height="25" rx="6"/><text class="t" x="2671" y="942">Natureza Reflexiva</text></g>
<g id="areflexao"><rect class="n g" x="2884" y="848" width="70" height="24" rx="6"/><text class="t" x="2919" y="864">A reflexão</text></g>
<g id="acritica"><rect class="n g" x="2912" y="933" width="58" height="25" rx="6"/><text class="t" x="2941" y="950">A crítica</text></g>
<g id="debater"><rect class="n g" x="3332" y="880" width="145" height="93" rx="6"/><text class="t"><tspan x="3404" y="896">Debater, tomando uma</tspan><tspan x="3404" y="910">posição, defendendo-a</tspan><tspan x="3404" y="923">argumentativamente</tspan><tspan x="3404" y="937">e mudando de posição</tspan><tspan x="3404" y="951">face a argumentos</tspan><tspan x="3404" y="965">mais consistentes</tspan></text></g>
<g id="contextualizar"><rect class="n g" x="3334" y="1082" width="185" height="56" rx="6"/><text class="t"><tspan x="3426" y="1101">Contextualizar conhecimentos</tspan><tspan x="3426" y="1115">filosóficos, tanto na sua origem,</tspan><tspan x="3426" y="1128">quanto em outros planos</tspan></text></g>
<g id="articular"><rect class="n g" x="3116" y="1125" width="177" height="95" rx="6"/><text class="t"><tspan x="3204" y="1141">Articular conhecimentos</tspan><tspan x="3204" y="1154">e diferentes conteúdos e</tspan><tspan x="3204" y="1168">modos discursivos nas</tspan><tspan x="3204" y="1182">ciências naturais e humanas,</tspan><tspan x="3204" y="1196">nas artes e em outras</tspan><tspan x="3204" y="1210">produções culturais.</tspan></text></g>
<g id="lerfilo"><rect class="n g" x="2918" y="1136" width="141" height="55" rx="6"/><text class="t"><tspan x="2988" y="1153">Ler, de modo filosó fico,</tspan><tspan x="2988" y="1167">textos de diferentes</tspan><tspan x="2988" y="1180">estruturas e registros</tspan></text></g>
<g id="elaborar"><rect class="n g" x="2761" y="1143" width="133" height="52" rx="6"/><text class="t"><tspan x="2828" y="1160">Elaborar por escrito, o</tspan><tspan x="2828" y="1174">que foi apropriado de</tspan><tspan x="2828" y="1187">modo reflexivo</tspan></text></g>
<g id="lertextos"><rect class="n g" x="2617" y="1083" width="119" height="41" rx="6"/><text class="t"><tspan x="2676" y="1100">Ler textos de modo</tspan><tspan x="2676" y="1114">significativo</tspan></text></g>
<g id="aceder"><rect class="n g" x="2509" y="1243" width="123" height="55" rx="6"/><text class="t"><tspan x="2570" y="1260">Aceder a</tspan><tspan x="2570" y="1274">competência</tspan><tspan x="2570" y="1287">discursivo-filosófico</tspan></text></g>
<g id="desenvolver"><rect class="n g" x="2714" y="1240" width="167" height="79" rx="6"/><text class="t"><tspan x="2797" y="1256">Desenvolver competências</tspan><tspan x="2797" y="1270">específicas que contribuem</tspan><tspan x="2797" y="1283">para o desenvolvimento de</tspan><tspan x="2797" y="1297">uma competência geral</tspan><tspan x="2797" y="1310">de leitura filosófica</tspan></text></g>
<g id="apropriar"><rect class="n g" x="2593" y="1379" width="167" height="39" rx="6"/><text class="t"><tspan x="2677" y="1396">Apropriar-se reflexivamente</tspan><tspan x="2677" y="1409">do conteúdo</tspan></text></g>
<g id="capanalise"><rect class="n g" x="2566" y="1584" width="99" height="39" rx="6"/><text class="t"><tspan x="2615" y="1601">Capacidade de</tspan><tspan x="2615" y="1615">análise</tspan></text></g>
<g id="capinterp"><rect class="n g" x="2661" y="1672" width="99" height="41" rx="6"/><text class="t"><tspan x="2710" y="1689">Capacidade de</tspan><tspan x="2710" y="1703">interpretação</tspan></text></g>
<g id="capreconst"><rect class="n g" x="2817" y="1681" width="134" height="40" rx="6"/><text class="t"><tspan x="2883" y="1698">Capacidade de</tspan><tspan x="2883" y="1711">reconstrução racional</tspan></text></g>
<g id="capcritica"><rect class="n g" x="2918" y="1594" width="123" height="55" rx="6"/><text class="t"><tspan x="2979" y="1611">Capacidade</tspan><tspan x="2979" y="1625">de crítica</tspan><tspan x="2979" y="1639">ou problematização</tspan></text></g>
<g id="desenvolvimento"><rect class="n g" x="2810" y="1402" width="147" height="55" rx="6"/><text class="t"><tspan x="2883" y="1419">Desenvolvimento de</tspan><tspan x="2883" y="1433">uma competência</tspan><tspan x="2883" y="1446">comunicativo-linguística</tspan></text></g>
<g id="capdecod"><rect class="n g" x="2985" y="1388" width="110" height="83" rx="6"/><text class="t"><tspan x="3040" y="1405">Capacidade de</tspan><tspan x="3040" y="1419">decodificação/</tspan><tspan x="3040" y="1433">recodificação</tspan><tspan x="3040" y="1446">(competência de</tspan><tspan x="3040" y="1460">leitura filosófica)</tspan></text></g>
<g id="curriculo"><rect class="n g" x="3128" y="1424" width="155" height="52" rx="6"/><text class="t"><tspan x="3205" y="1441">Currículo interdisciplinar,</tspan><tspan x="3205" y="1455">transdisciplinar</tspan><tspan x="3205" y="1468">e contextualizado</tspan></text></g>
<g id="cientifico"><rect class="n g" x="3547" y="1238" width="143" height="28" rx="6"/><text class="t" x="3618" y="1256">Científico-tecnológico</text></g>
<g id="pessoal"><rect class="n g" x="3254" y="1311" width="117" height="27" rx="6"/><text class="t" x="3312" y="1328">Pessoal-biográfico</text></g>
<g id="sociopolitico"><rect class="n g" x="3364" y="1350" width="89" height="27" rx="6"/><text class="t" x="3408" y="1367">Sócio-político</text></g>
<g id="historicofilo"><rect class="n g" x="3490" y="1364" width="63" height="25" rx="6"/><text class="t" x="3521" y="1381">Histórico</text></g>
<g id="cultural"><rect class="n g" x="3545" y="1311" width="58" height="24" rx="6"/><text class="t" x="3574" y="1327">Cultural</text></g>
</svg>
